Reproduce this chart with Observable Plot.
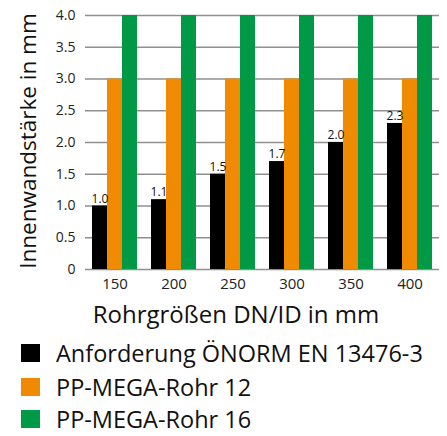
<!DOCTYPE html>
<html>
<head>
<meta charset="utf-8">
<script src="https://cdn.jsdelivr.net/npm/d3@7"></script>
<script src="https://cdn.jsdelivr.net/npm/@observablehq/plot@0.6"></script>
<style>
  html, body { margin: 0; padding: 0; background: #fff; }
  #wrap { position: relative; width: 447px; height: 436px; font-family: "Open Sans", sans-serif; color: #111; }
  #ylabel { position: absolute; left: 28px; top: 141px; line-height: 1; transform: translate(-50%, -50%) rotate(-90deg); white-space: nowrap; font-size: 22.5px; }
  #xlabel { position: absolute; left: 236px; top: 314px; line-height: 1; transform: translate(-50%, -50%); white-space: nowrap; font-size: 24px; }
  .leg { position: absolute; left: 21px; display: flex; align-items: center; font-size: 23.5px; line-height: 22px; height: 22px; white-space: nowrap; transform: translateY(-50%); }
  .sw { width: 19px; height: 18px; margin-right: 16px; }
</style>
</head>
<body>
<div id="wrap"></div>
<script>
const sizes = ["150", "200", "250", "300", "350", "400"];
const series = ["Anforderung ÖNORM EN 13476-3", "PP-MEGA-Rohr 12", "PP-MEGA-Rohr 16"];
const colors = ["#000000", "#f08a00", "#009a46"];
const normValues = [1.0, 1.1, 1.5, 1.7, 2.0, 2.3];
const rohr12Values = [3.0, 3.0, 3.0, 3.0, 3.0, 3.0];
const rohr16Values = [4.0, 4.0, 4.0, 4.0, 4.0, 4.0];
const yTicks = [0, 0.5, 1.0, 1.5, 2.0, 2.5, 3.0, 3.5, 4.0];

const valueSets = [normValues, rohr12Values, rohr16Values];
const data = [];
sizes.forEach((s, i) => series.forEach((name, j) => data.push({size: s, series: name, value: valueSets[j][i]})));
const normData = data.filter(d => d.series === series[0]);

const chart = Plot.plot({
  width: 447,
  height: 298,
  marginTop: 15,
  marginBottom: 29,
  marginLeft: 84,
  marginRight: 8,
  style: {fontFamily: "Open Sans, sans-serif", color: "#222", background: "transparent"},
  fx: {domain: sizes, padding: 0, label: null},
  x: {domain: series, paddingInner: 0, paddingOuter: 0.35, axis: null},
  y: {domain: [0, 4]},
  color: {domain: series, range: colors},
  marks: [
    Plot.ruleY(yTicks, {stroke: "#8f8f8f", strokeWidth: 1.5}),
    Plot.barY(data, {fx: "size", x: "series", y: "value", fill: "series"}),
    Plot.text(normData, {fx: "size", x: "series", y: "value", text: d => d.value.toFixed(1), dy: -7, fontSize: 12, fill: "#111"}),
    Plot.axisY(yTicks, {tickSize: 0, tickPadding: 10, fontSize: 14, tickFormat: d => d === 0 ? "0" : d.toFixed(1), label: null}),
    Plot.axisFx({anchor: "bottom", tickSize: 0, tickPadding: 9, fontSize: 15, label: null})
  ]
});

const wrap = document.getElementById("wrap");
wrap.appendChild(chart);

const yl = document.createElement("div");
yl.id = "ylabel"; yl.textContent = "Innenwandstärke in mm";
wrap.appendChild(yl);
const xl = document.createElement("div");
xl.id = "xlabel"; xl.textContent = "Rohrgrößen DN/ID in mm";
wrap.appendChild(xl);

const legTops = [353, 387, 419];
series.forEach((name, i) => {
  const row = document.createElement("div");
  row.className = "leg";
  row.style.top = legTops[i] + "px";
  const sw = document.createElement("div");
  sw.className = "sw"; sw.style.background = colors[i];
  const t = document.createElement("span"); t.textContent = name;
  row.appendChild(sw); row.appendChild(t);
  wrap.appendChild(row);
});
</script>
</body>
</html>
